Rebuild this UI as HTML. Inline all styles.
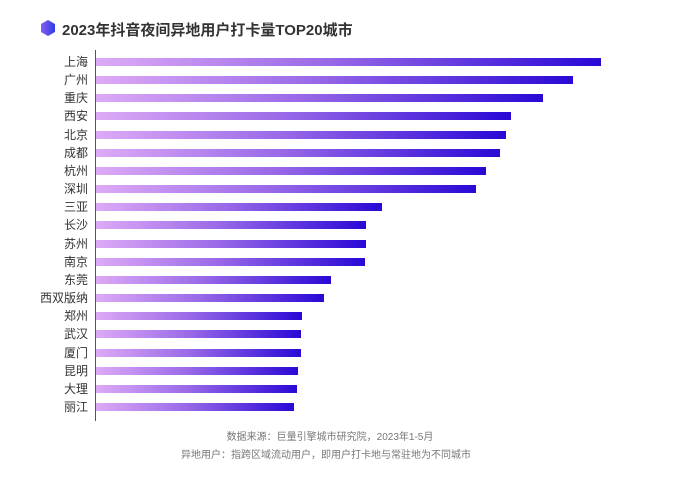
<!DOCTYPE html>
<html><head><meta charset="utf-8"><style>
body{margin:0;width:688px;height:479px;background:#fff;position:relative;overflow:hidden;font-family:"Liberation Sans","Noto Sans CJK SC",sans-serif}
.t{position:absolute;left:62px;top:19px;font-size:15px;font-weight:bold;color:#333}
.ax{position:absolute;left:95px;top:50px;width:1px;height:371px;background:#555}
.l{position:absolute;left:20px;width:68px;text-align:right;font-size:12px;color:#333;line-height:14px}
.b{position:absolute;left:96px;height:8px;background:linear-gradient(90deg,#ddaaf6,#9a6ae8 45%,#2a08d6)}
.f{position:absolute;width:688px;left:0;text-align:center;font-size:10px;color:#777}
</style></head><body>
<svg style="position:absolute;left:39px;top:19px" width="18" height="18" viewBox="0 0 18 18"><defs><linearGradient id="g" x1="0" x2="1"><stop offset="0" stop-color="#8a5cf0"/><stop offset="1" stop-color="#2b3ee8"/></linearGradient></defs><polygon points="9,1 16,5 16,13 9,17 2,13 2,5" fill="url(#g)"/></svg>
<div class="t">2023年抖音夜间异地用户打卡量TOP20城市</div>
<div class="ax"></div>
<div id="c"></div>
<div class="f" style="top:428px;left:-14px">数据来源：巨量引擎城市研究院，2023年1-5月</div>
<div class="f" style="top:446px;left:-18px">异地用户：指跨区域流动用户，即用户打卡地与常驻地为不同城市</div>
<script>
var n=["上海","广州","重庆","西安","北京","成都","杭州","深圳","三亚","长沙","苏州","南京","东莞","西双版纳","郑州","武汉","厦门","昆明","大理","丽江"];
var e=[601,573,543,511,506,500,486,476,382,366,366,365,331,324,302,301,301,298,297,294];
var h="";for(var i=0;i<20;i++){var y=62+i*18.16;h+='<div class="l" style="top:'+(y-7)+'px">'+n[i]+'</div><div class="b" style="top:'+(y-4)+'px;width:'+(e[i]-96)+'px"></div>';}
document.getElementById("c").innerHTML=h;
</script>
</body></html>
